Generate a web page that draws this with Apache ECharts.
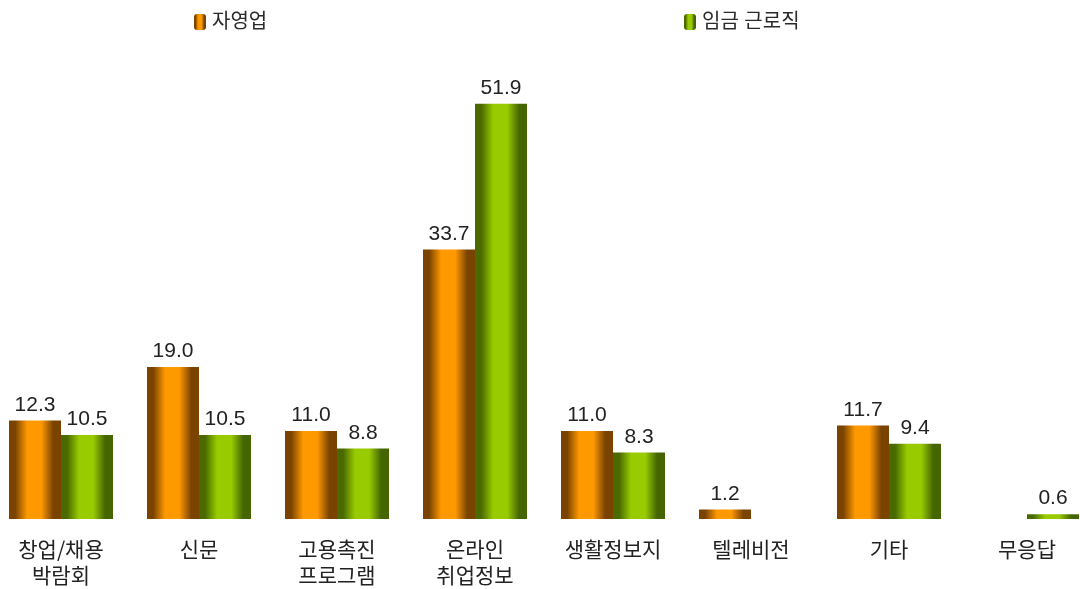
<!DOCTYPE html>
<html><head><meta charset="utf-8">
<script src="https://cdn.jsdelivr.net/npm/echarts@6/dist/echarts.min.js"></script>
<style>html,body{margin:0;padding:0;background:#fff}#c{width:1080px;height:589px}</style>
</head><body><div id="c"></div>
<script>
const categories = ['창업/채용\n박람회','신문','고용촉진\n프로그램','온라인\n취업정보','생활정보지','텔레비전','기타','무응답'];
const selfEmployed = [12.3, 19.0, 11.0, 33.7, 11.0, 1.2, 11.7, null];
const wageWorkers = [10.5, 10.5, 8.8, 51.9, 8.3, null, 9.4, 0.6];
const seriesNames = ['자영업','임금 근로직'];

const font = 'Liberation Sans, Noto Sans CJK KR, sans-serif';
function grad(dark, bright, dark2){
  return new echarts.graphic.LinearGradient(0,0,1,0,[
    {offset:0,color:dark},{offset:0.12,color:dark},{offset:0.35,color:bright},
    {offset:0.62,color:bright},{offset:0.85,color:dark2},{offset:1,color:dark2}]);
}
const orange = grad('#7a4400','#ff9900','#7a4400');
const green = grad('#4a6a00','#99cc00','#456500');

const chart = echarts.init(document.getElementById('c'));
const lbl = {show:true,position:'top',fontSize:21,color:'#222',distance:5,fontFamily:font,
  formatter:p=>p.value==null?'':p.value.toFixed(1)};
chart.setOption({
  animation:false,
  textStyle:{fontFamily:font},
  legend:[
    {data:[seriesNames[0]],left:189,top:7,itemWidth:12,itemHeight:16,itemGap:4,textStyle:{fontSize:20,color:'#2a2a2a',fontFamily:font,padding:[0,0,0,1]}},
    {data:[seriesNames[1]],left:679,top:7,itemWidth:12,itemHeight:16,textStyle:{fontSize:20,color:'#2a2a2a',fontFamily:font,padding:[0,0,0,1]}}
  ],
  grid:{left:-8,right:-16,top:39,bottom:70,outerBoundsMode:'none',containLabel:false},
  xAxis:{type:'category',data:categories,axisLine:{show:false},axisTick:{show:false},
    axisLabel:{fontSize:21,color:'#222',margin:17,lineHeight:26,interval:0,fontFamily:'Noto Sans CJK KR, sans-serif'}},
  yAxis:{type:'value',min:0,max:60,show:false,splitLine:{show:false}},
  series:[
    {name:seriesNames[0],type:'bar',data:selfEmployed,barWidth:52,barGap:'0%',itemStyle:{color:orange},label:lbl},
    {name:seriesNames[1],type:'bar',data:wageWorkers,barWidth:52,barGap:'0%',itemStyle:{color:green},label:lbl}
  ]
});
</script></body></html>
